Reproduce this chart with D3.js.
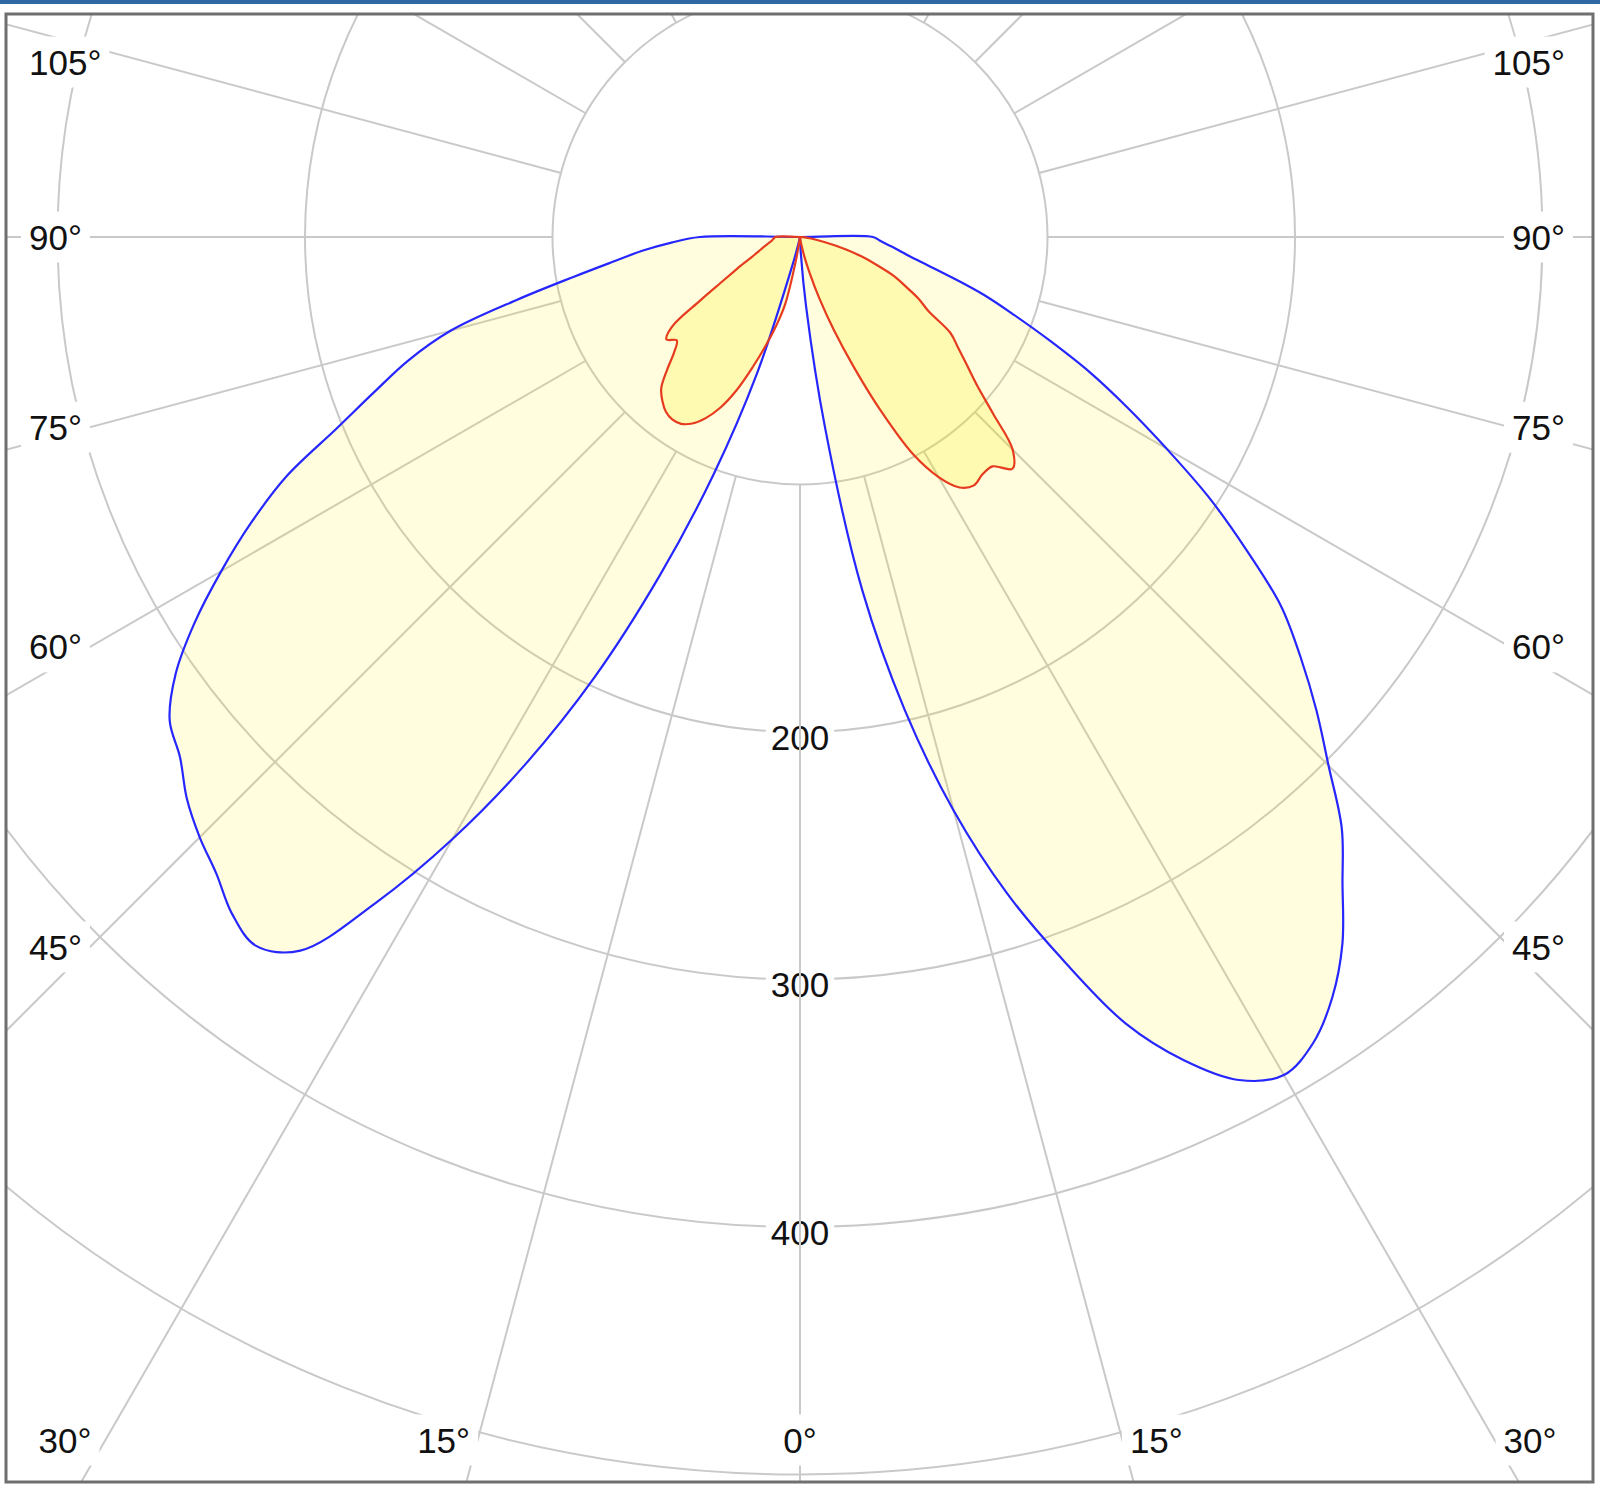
<!DOCTYPE html>
<html>
<head>
<meta charset="utf-8">
<script src="https://cdn.jsdelivr.net/npm/d3@7/dist/d3.min.js"></script>
<style>
html, body { margin: 0; padding: 0; background: #fff; }
svg { display: block; }
</style>
</head>
<body>
<svg id="chart" width="1600" height="1497"></svg>
<script>
// gamma angles (deg from nadir), one sample every 2.5 deg
const gammas = d3.range(0, 90.01, 2.5)

// C0 / C180 plane (blue), cd per klm
const c0 = [0, 5, 28, 78, 145, 196, 240, 278, 311, 344, 367, 384, 391, 386, 375, 360, 341, 324, 302, 283,
    264, 245, 220, 196, 171, 149, 129, 109, 92, 78, 64, 53, 45, 40, 35.6, 32.2, 29.5]
const c180 = [0, 0, 0, 0, 0, 2, 12, 58, 102, 148, 196, 240, 281, 319, 352, 361, 357, 349, 343, 336,
    327, 321, 308, 290, 270, 250, 229, 203, 183, 166, 146, 117, 93, 76, 64, 52, 40.5]

// C90 / C270 plane (red)
const c90 = [0, 0, 0, 1, 3, 8, 15, 26, 40, 57, 78, 99, 112, 120, 122.5, 121, 121, 127, 121.5, 106,
    93.5, 85, 78, 72, 60, 54, 47, 41, 33, 26, 19, 12, 7, 4, 2, 1, 0]
const c270 = [0, 0, 0, 1, 10, 28, 37, 46, 56, 67, 76, 82.5, 87, 89.5, 90, 89, 86.5, 83, 76, 69,
    65, 68, 63, 48, 37, 30, 25, 21, 18.5, 16.5, 15, 13.5, 12.5, 11.5, 11, 10.5, 10]

const rings = [100, 200, 300, 400, 500, 600]
const ringLabels = [200, 300, 400]
const spokes = d3.range(0, 360, 15)
const leftLabels = [105, 90, 75, 60, 45]
const rightLabels = [105, 90, 75, 60, 45]
const bottomLabels = [-30, -15, 0, 15, 30]

let svg = d3.select('#chart'),
    cx = 800,
    cy = 237,
    frame = {x: 6, y: 14, w: 1587, h: 1468},
    rad = Math.PI / 180,
    r = d3.scaleLinear().domain([0, 100]).range([0, 247.5]),
    font = '"Liberation Sans", Arial, sans-serif'

// blue strip on top
svg.append('rect')
    .attr('x', 0).attr('y', 0)
    .attr('width', 1600).attr('height', 4)
    .attr('fill', '#2f68a3')

svg.append('defs').append('clipPath').attr('id', 'clip')
    .append('rect')
    .attr('x', frame.x).attr('y', frame.y)
    .attr('width', frame.w).attr('height', frame.h)

let g = svg.append('g').attr('clip-path', 'url(#clip)')
let plot = g.append('g').attr('transform', `translate(${cx},${cy})`)

// circles
plot.selectAll('circle.ring').data(rings).join('circle')
    .attr('class', 'ring')
    .attr('r', d => r(d))
    .attr('fill', 'none')
    .attr('stroke', '#c9c9c9')
    .attr('stroke-width', 2)

// value labels on the 0 deg axis
let vl = plot.selectAll('g.vlabel').data(ringLabels).join('g')
    .attr('class', 'vlabel')
    .attr('transform', d => `translate(0,${r(d) + 5})`)
vl.append('text')
    .attr('text-anchor', 'middle')
    .attr('dominant-baseline', 'central')
    .attr('font-family', font)
    .attr('font-size', 35)
    .attr('fill', '#111')
    .text(d => d)
vl.each(function() {
    let b = d3.select(this).select('text').node().getBBox()
    d3.select(this).insert('rect', 'text')
        .attr('x', b.x - 5).attr('y', b.y - 2)
        .attr('width', b.width + 10).attr('height', b.height + 4)
        .attr('fill', '#fff')
})

// spokes, from the first circle outwards
plot.selectAll('line.spoke').data(spokes).join('line')
    .attr('class', 'spoke')
    .attr('x1', a => r(100) * Math.sin(a * rad))
    .attr('y1', a => r(100) * Math.cos(a * rad))
    .attr('x2', a => r(900) * Math.sin(a * rad))
    .attr('y2', a => r(900) * Math.cos(a * rad))
    .attr('stroke', '#c9c9c9')
    .attr('stroke-width', 2)

// polar curves: right half = first plane, left half = opposite plane
function planePoints(right, left) {
    let pts = gammas.map((gm, i) => [Math.PI - gm * rad, right[i]])
    pts.push([Math.PI / 2, 0])
    gammas.slice().reverse().forEach((gm, j) => {
        let i = gammas.length - 1 - j
        pts.push([Math.PI + gm * rad, left[i]])
    })
    return pts
}

let radial = d3.lineRadial()
    .angle(d => d[0])
    .radius(d => r(d[1]))
    .curve(d3.curveCatmullRomClosed.alpha(0.5))

let planes = [
    {pts: planePoints(c0, c180), stroke: '#2626ff', op: 0.13},
    {pts: planePoints(c90, c270), stroke: '#e63b1f', op: 0.2}
]

plot.selectAll('path.fill').data(planes).join('path')
    .attr('class', 'fill')
    .attr('d', d => radial(d.pts))
    .attr('fill', '#fff000')
    .attr('fill-opacity', d => d.op)
    .attr('stroke', 'none')

plot.selectAll('path.curve').data(planes).join('path')
    .attr('class', 'curve')
    .attr('d', d => radial(d.pts))
    .attr('fill', 'none')
    .attr('stroke', d => d.stroke)
    .attr('stroke-width', 2.2)
    .attr('stroke-linejoin', 'round')

// angle labels
let angleLabels = []
leftLabels.forEach(a => angleLabels.push({
    txt: a + '°', anchor: 'start', x: 29,
    y: Math.max(62, cy + 710 / Math.tan(a * rad))
}))
rightLabels.forEach(a => angleLabels.push({
    txt: a + '°', anchor: 'end', x: 1565,
    y: Math.max(62, cy + 710 / Math.tan(a * rad))
}))
bottomLabels.forEach(a => angleLabels.push({
    txt: Math.abs(a) + '°', anchor: 'middle',
    x: Math.min(1530, Math.max(65, cx + 1330 * Math.tan(a * rad))),
    y: 1440
}))

let al = g.selectAll('g.alabel').data(angleLabels).join('g')
    .attr('class', 'alabel')
    .attr('transform', d => `translate(${d.x},${d.y})`)
al.append('text')
    .attr('text-anchor', d => d.anchor)
    .attr('dominant-baseline', 'central')
    .attr('font-family', font)
    .attr('font-size', 35)
    .attr('fill', '#111')
    .text(d => d.txt)
al.each(function() {
    let b = d3.select(this).select('text').node().getBBox()
    d3.select(this).insert('rect', 'text')
        .attr('x', b.x - 8).attr('y', b.y - 6)
        .attr('width', b.width + 16).attr('height', b.height + 12)
        .attr('fill', '#fff')
})

// frame
svg.append('rect')
    .attr('x', frame.x).attr('y', frame.y)
    .attr('width', frame.w).attr('height', frame.h)
    .attr('fill', 'none')
    .attr('stroke', '#6f6f6f')
    .attr('stroke-width', 3)
</script>
</body>
</html>
